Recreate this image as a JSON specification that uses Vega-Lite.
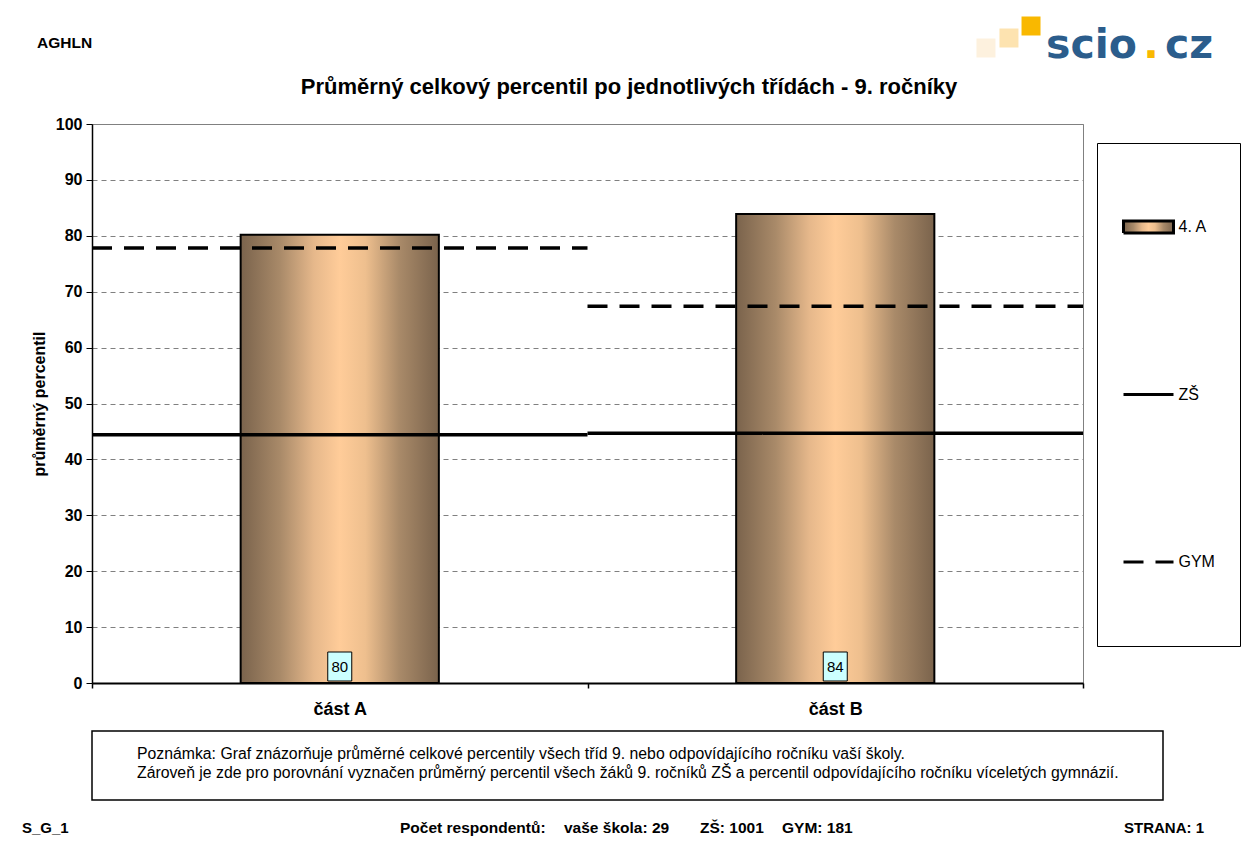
{
  "$schema": "https://vega.github.io/schema/vega-lite/v6.json",
  "padding": 0,
  "background": "white",
  "config": {
    "font": "Liberation Sans",
    "view": {"stroke": null}
  },
  "columns": 2,
  "align": "each",
  "bounds": "flush",
  "spacing": {"row": 48, "column": 0},
  "concat": [
    {
      "width": 92,
      "height": 76,
      "data": {"values": [{}]},
      "mark": {"type": "text", "text": "AGHLN", "align": "left", "baseline": "middle", "fontSize": 15.5, "fontWeight": "bold", "color": "black"},
      "encoding": {
        "x": {"datum": 0.4022, "type": "quantitative", "scale": {"domain": [0, 1], "nice": false, "zero": false}, "axis": null},
        "y": {"datum": 0.566, "type": "quantitative", "scale": {"domain": [0, 1], "reverse": true, "nice": false, "zero": false}, "axis": null}
      }
    },
    {
      "width": 1161,
      "height": 76,
      "data": {"values": [{}]},
      "layer": [
        {
          "mark": {"type": "point", "shape": "square", "filled": true, "size": 361, "color": "#fdf1de", "opacity": 1},
          "encoding": {
            "x": {"datum": 0.77, "type": "quantitative", "scale": {"domain": [0, 1], "nice": false, "zero": false}, "axis": null},
            "y": {"datum": 0.6316, "type": "quantitative", "scale": {"domain": [0, 1], "reverse": true, "nice": false, "zero": false}, "axis": null}
          }
        },
        {
          "mark": {"type": "point", "shape": "square", "filled": true, "size": 361, "color": "#fde3b0", "opacity": 1},
          "encoding": {
            "x": {"datum": 0.7898, "type": "quantitative"},
            "y": {"datum": 0.5, "type": "quantitative"}
          }
        },
        {
          "mark": {"type": "point", "shape": "square", "filled": true, "size": 361, "color": "#f9b800", "opacity": 1},
          "encoding": {
            "x": {"datum": 0.8088, "type": "quantitative"},
            "y": {"datum": 0.3421, "type": "quantitative"}
          }
        },
        {
          "mark": {"type": "text", "text": "scio", "align": "left", "baseline": "alphabetic", "font": "DejaVu Sans", "fontSize": 41, "fontWeight": "bold", "color": "#2b5d8c"},
          "encoding": {
            "x": {"datum": 0.8217, "type": "quantitative"},
            "y": {"datum": 0.7632, "type": "quantitative"}
          }
        },
        {
          "mark": {"type": "text", "text": ".", "align": "center", "baseline": "alphabetic", "font": "DejaVu Sans", "fontSize": 41, "fontWeight": "bold", "color": "#f9b800"},
          "encoding": {
            "x": {"datum": 0.9121, "type": "quantitative"},
            "y": {"datum": 0.7632, "type": "quantitative"}
          }
        },
        {
          "mark": {"type": "text", "text": "cz", "align": "left", "baseline": "alphabetic", "font": "DejaVu Sans", "fontSize": 41, "fontWeight": "bold", "color": "#2b5d8c"},
          "encoding": {
            "x": {"datum": 0.9242, "type": "quantitative"},
            "y": {"datum": 0.7632, "type": "quantitative"}
          }
        }
      ]
    },
    {
      "width": 92,
      "height": 559,
      "data": {"values": []},
      "mark": "point"
    },
    {
      "width": 991,
      "height": 559,
      "view": {"stroke": "#808080", "strokeWidth": 1},
      "title": {
        "text": "Průměrný celkový percentil po jednotlivých třídách - 9. ročníky",
        "fontSize": 22,
        "fontWeight": "bold",
        "color": "black",
        "anchor": "middle",
        "dx": 41.5,
        "offset": 17.5
      },
      "data": {
        "values": [
          {"part": "část A", "series": "4. A", "value": 80.2},
          {"part": "část A", "series": "ZŠ", "value": 44.4},
          {"part": "část A", "series": "GYM", "value": 77.8},
          {"part": "část B", "series": "4. A", "value": 83.9},
          {"part": "část B", "series": "ZŠ", "value": 44.7},
          {"part": "část B", "series": "GYM", "value": 67.4}
        ]
      },
      "encoding": {
        "x": {
          "field": "part",
          "type": "nominal",
          "sort": null,
          "scale": {"paddingInner": 0, "paddingOuter": 0},
          "axis": {
            "title": null,
            "labelAngle": 0,
            "labelFontWeight": "bold",
            "labelFontSize": 18,
            "labelColor": "black",
            "labelPadding": 12,
            "domainColor": "black",
            "domainWidth": 2,
            "tickColor": "black",
            "tickWidth": 1.5,
            "tickSize": 5,
            "tickBand": "extent",
            "grid": false
          }
        }
      },
      "layer": [
        {
          "transform": [{"filter": "datum.series === '4. A'"}],
          "mark": {
            "type": "bar",
            "width": {"band": 0.4},
            "stroke": "black",
            "strokeWidth": 2,
            "fill": {
              "gradient": "linear",
              "x1": 0, "x2": 1, "y1": 0, "y2": 0,
              "stops": [
                {"offset": 0, "color": "#7a634c"},
                {"offset": 0.2, "color": "#a98a69"},
                {"offset": 0.37, "color": "#e6b88b"},
                {"offset": 0.5, "color": "#ffcc99"},
                {"offset": 0.63, "color": "#eebf8e"},
                {"offset": 0.8, "color": "#a98a69"},
                {"offset": 1, "color": "#7a634c"}
              ]
            }
          },
          "encoding": {
            "y": {
              "field": "value",
              "type": "quantitative",
              "scale": {"domain": [0, 100], "nice": false},
              "axis": {
                "title": "průměrný percentil",
                "titleFontSize": 16,
                "titleFontWeight": "bold",
                "titleColor": "black",
                "titlePadding": 8,
                "values": [0, 10, 20, 30, 40, 50, 60, 70, 80, 90, 100],
                "labelFontWeight": "bold",
                "labelFontSize": 16,
                "labelColor": "black",
                "labelPadding": 4,
                "tickSize": 6,
                "tickColor": "black",
                "domainColor": "black",
                "domainWidth": 1.5,
                "grid": true,
                "gridColor": "#808080",
                "gridDash": [5, 4],
                "gridWidth": 1
              }
            },
            "strokeDash": {
              "field": "series",
              "type": "nominal",
              "scale": {"domain": ["4. A", "ZŠ", "GYM"], "range": [[1, 0], [1, 0], [20, 12]]},
              "legend": {
                "title": null,
                "orient": "none",
                "legendX": 1097,
                "legendY": 143,
                "symbolSize": 12321,
                "symbolStrokeWidth": 3,
                "symbolOpacity": 1,
                "clipHeight": 118,
                "labelOffset": -57.5,
                "rowPadding": 49.5,
                "padding": 25,
                "labelFontSize": 16,
                "labelColor": "black",
                "strokeColor": "black"
              }
            }
          }
        },
        {
          "transform": [{"filter": "datum.series !== '4. A'"}],
          "mark": {"type": "rule", "color": "black", "strokeWidth": 3.5, "strokeCap": "butt"},
          "encoding": {
            "x": {"field": "part", "type": "nominal", "sort": null, "bandPosition": 0},
            "x2": {"field": "part", "bandPosition": 1},
            "y": {"field": "value", "type": "quantitative"},
            "strokeDash": {
              "field": "series",
              "type": "nominal",
              "scale": {"domain": ["4. A", "ZŠ", "GYM"], "range": [[1, 0], [1, 0], [20, 12]]}
            }
          }
        },
        {
          "transform": [{"filter": "datum.series === '4. A'"}],
          "mark": {
            "type": "point",
            "shape": "M-1.2,-0.2H1.2V-3.1H-1.2Z",
            "size": 400,
            "filled": true,
            "fill": "#ccffff",
            "stroke": "black",
            "strokeWidth": 1,
            "opacity": 1
          },
          "encoding": {
            "y": {"datum": 0, "type": "quantitative"}
          }
        },
        {
          "transform": [{"filter": "datum.series === '4. A'"}],
          "mark": {"type": "text", "fontSize": 15, "color": "black", "baseline": "middle", "dy": -16},
          "encoding": {
            "y": {"datum": 0, "type": "quantitative"},
            "text": {"field": "value", "type": "quantitative", "format": ".0f"}
          }
        },
        {
          "mark": {"type": "point", "opacity": 0, "size": 1, "color": "black"},
          "encoding": {
            "y": {"field": "value", "type": "quantitative"},
            "shape": {
              "field": "series",
              "type": "nominal",
              "scale": {"domain": ["4. A", "ZŠ", "GYM"], "range": ["M-1,-0.108H-0.099V0.108H-1Z", "M-1,0H-0.099", "M-1,0H-0.099"]},
              "legend": {
                "title": null,
                "orient": "none",
                "legendX": 1097,
                "legendY": 143,
                "symbolSize": 12321,
                "symbolStrokeWidth": 3,
                "symbolOpacity": 1,
                "clipHeight": 118,
                "labelOffset": -57.5,
                "rowPadding": 49.5,
                "padding": 25,
                "labelFontSize": 16,
                "labelColor": "black",
                "strokeColor": "black"
              }
            }
          }
        }
      ]
    },
    {
      "width": 92,
      "height": 69,
      "data": {"values": [{}]},
      "mark": {"type": "text", "text": "S_G_1", "align": "left", "baseline": "middle", "fontSize": 15, "fontWeight": "bold", "color": "black"},
      "encoding": {
        "x": {"datum": 0.2391, "type": "quantitative", "scale": {"domain": [0, 1], "nice": false, "zero": false}, "axis": null},
        "y": {"datum": 1.4058, "type": "quantitative", "scale": {"domain": [0, 1], "reverse": true, "nice": false, "zero": false}, "axis": null}
      }
    },
    {
      "width": 1071,
      "height": 69,
      "view": {"stroke": "black", "strokeWidth": 1.5},
      "data": {"values": [{}]},
      "layer": [
        {
          "mark": {"type": "text", "text": "Poznámka: Graf znázorňuje průměrné celkové percentily všech tříd 9. nebo odpovídajícího ročníku vaší školy.", "align": "left", "baseline": "middle", "fontSize": 15.8, "color": "black"},
          "encoding": {
            "x": {"datum": 0.042, "type": "quantitative", "scale": {"domain": [0, 1], "nice": false, "zero": false}, "axis": null},
            "y": {"datum": 0.333, "type": "quantitative", "scale": {"domain": [0, 1], "reverse": true, "nice": false, "zero": false}, "axis": null}
          }
        },
        {
          "mark": {"type": "text", "text": "Zároveň je zde pro porovnání vyznačen průměrný percentil všech žáků 9. ročníků ZŠ a percentil odpovídajícího ročníku víceletých gymnázií.", "align": "left", "baseline": "middle", "fontSize": 15.8, "color": "black"},
          "encoding": {
            "x": {"datum": 0.042, "type": "quantitative"},
            "y": {"datum": 0.609, "type": "quantitative"}
          }
        },
        {
          "mark": {"type": "text", "text": "Počet respondentů:", "align": "left", "baseline": "middle", "fontSize": 15.5, "fontWeight": "bold", "color": "black"},
          "encoding": {
            "x": {"datum": 0.2876, "type": "quantitative"},
            "y": {"datum": 1.4058, "type": "quantitative"}
          }
        },
        {
          "mark": {"type": "text", "text": "vaše škola: 29", "align": "left", "baseline": "middle", "fontSize": 15.5, "fontWeight": "bold", "color": "black"},
          "encoding": {
            "x": {"datum": 0.4407, "type": "quantitative"},
            "y": {"datum": 1.4058, "type": "quantitative"}
          }
        },
        {
          "mark": {"type": "text", "text": "ZŠ: 1001", "align": "left", "baseline": "middle", "fontSize": 15.5, "fontWeight": "bold", "color": "black"},
          "encoding": {
            "x": {"datum": 0.5677, "type": "quantitative"},
            "y": {"datum": 1.4058, "type": "quantitative"}
          }
        },
        {
          "mark": {"type": "text", "text": "GYM: 181", "align": "left", "baseline": "middle", "fontSize": 15.5, "fontWeight": "bold", "color": "black"},
          "encoding": {
            "x": {"datum": 0.6443, "type": "quantitative"},
            "y": {"datum": 1.4058, "type": "quantitative"}
          }
        },
        {
          "mark": {"type": "text", "text": "STRANA: 1", "align": "right", "baseline": "middle", "fontSize": 15, "fontWeight": "bold", "color": "black"},
          "encoding": {
            "x": {"datum": 1.0383, "type": "quantitative"},
            "y": {"datum": 1.4058, "type": "quantitative"}
          }
        }
      ]
    }
  ]
}
